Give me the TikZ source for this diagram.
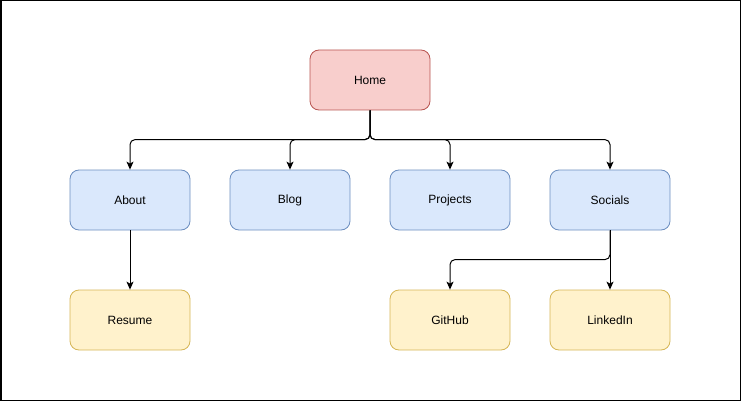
\documentclass[tikz,border=0pt]{standalone}
\usepackage{fontspec}
\setmainfont{Liberation Sans}
\usetikzlibrary{arrows.meta}
\definecolor{redfill}{HTML}{F8CECC}
\definecolor{redline}{HTML}{B85450}
\definecolor{bluefill}{HTML}{DAE8FC}
\definecolor{blueline}{HTML}{6C8EBF}
\definecolor{yelfill}{HTML}{FFF2CC}
\definecolor{yelline}{HTML}{D6B656}
\tikzset{
  box/.style={rectangle, rounded corners=9pt, minimum width=120pt, minimum height=60pt,
    line width=0.8pt, inner sep=0pt, font=\fontsize{12pt}{14pt}\selectfont},
  redbox/.style={box, draw=redline, fill=redfill},
  bluebox/.style={box, draw=blueline, fill=bluefill},
  yelbox/.style={box, draw=yelline, fill=yelfill},
  conn/.style={line width=1pt, rounded corners=5pt, -{Stealth[length=8pt,width=7pt,inset=2pt]}},
}
\begin{document}
\begin{tikzpicture}[x=1pt,y=-1pt]
\useasboundingbox (0,0) rectangle (741,401);
\draw[line width=1.5pt] (0.75,0.75) rectangle (740.25,400.25);
\node[redbox] (home) at (370,80) {Home};
\node[bluebox] (about) at (130,200) {About};
\node[bluebox] (blog) at (290,200) {Blog};
\node[bluebox] (proj) at (450,200) {Projects};
\node[bluebox] (soc) at (610,200) {Socials};
\node[yelbox] (res) at (130,320) {Resume};
\node[yelbox] (git) at (450,320) {GitHub};
\node[yelbox] (lin) at (610,320) {LinkedIn};
\draw[conn] (home.south) |- ([yshift=30pt]about.north) -- (about.north);
\draw[conn] (home.south) |- ([yshift=30pt]blog.north) -- (blog.north);
\draw[conn] (home.south) |- ([yshift=30pt]proj.north) -- (proj.north);
\draw[conn] (home.south) |- ([yshift=30pt]soc.north) -- (soc.north);
\draw[conn] (about.south) -- (res.north);
\draw[conn] (soc.south) |- ([yshift=30pt]git.north) -- (git.north);
\draw[conn] (soc.south) -- (lin.north);
\end{tikzpicture}
\end{document}
